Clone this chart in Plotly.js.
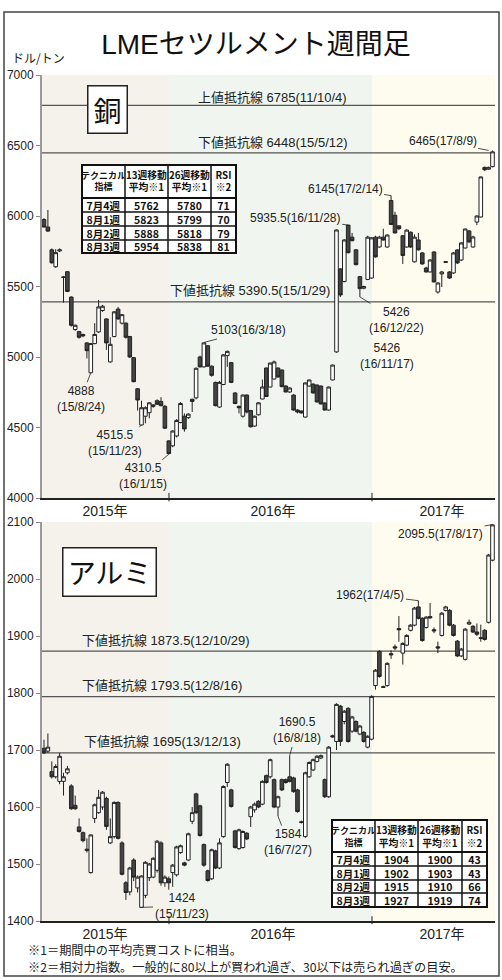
<!DOCTYPE html>
<html><head><meta charset="utf-8">
<script src="https://cdn.plot.ly/plotly-3.0.1.min.js"></script>
<style>html,body{margin:0;padding:0;background:#fff}#chart{width:502px;height:980px}</style>
</head><body><div id="chart"></div>
<script>
// ---------- DATA ----------
const weeks = [
'2015-06-01','2015-06-08','2015-06-15','2015-06-22','2015-06-29','2015-07-06','2015-07-13','2015-07-20','2015-07-27',
'2015-08-03','2015-08-10','2015-08-17','2015-08-24','2015-08-31','2015-09-07','2015-09-14','2015-09-21','2015-09-28',
'2015-10-05','2015-10-12','2015-10-19','2015-10-26','2015-11-02','2015-11-09','2015-11-16','2015-11-23','2015-11-30',
'2015-12-07','2015-12-14','2015-12-21','2015-12-28',
'2016-01-04','2016-01-11','2016-01-18','2016-01-25','2016-02-01','2016-02-08','2016-02-15','2016-02-22','2016-02-29',
'2016-03-07','2016-03-14','2016-03-21','2016-03-28','2016-04-04','2016-04-11','2016-04-18','2016-04-25','2016-05-02',
'2016-05-09','2016-05-16','2016-05-23','2016-05-30','2016-06-06','2016-06-13','2016-06-20','2016-06-27','2016-07-04',
'2016-07-11','2016-07-18','2016-07-25','2016-08-01','2016-08-08','2016-08-15','2016-08-22','2016-08-29','2016-09-05',
'2016-09-12','2016-09-19','2016-09-26','2016-10-03','2016-10-10','2016-10-17','2016-10-24','2016-10-31','2016-11-07',
'2016-11-14','2016-11-21','2016-11-28','2016-12-05','2016-12-12','2016-12-19','2016-12-26',
'2017-01-02','2017-01-09','2017-01-16','2017-01-23','2017-01-30','2017-02-06','2017-02-13','2017-02-20','2017-02-27',
'2017-03-06','2017-03-13','2017-03-20','2017-03-27','2017-04-03','2017-04-10','2017-04-17','2017-04-24','2017-05-01',
'2017-05-08','2017-05-15','2017-05-22','2017-05-29','2017-06-05','2017-06-12','2017-06-19','2017-06-26','2017-07-03',
'2017-07-10','2017-07-17','2017-07-24','2017-07-31','2017-08-07','2017-08-14'];

const cuOpen = [5975,5922,5760,5640,5752,5568,5605,5425,5195,5180,5160,5100,4888,5095,5178,5330,5270,4965,5145,5340,
5240,5240,5145,4995,4775,4518,4580,4605,4660,4690,4685,4650,4405,4370,4440,4535,4580,4570,4700,4710,
5000,4930,5080,4935,4820,4645,4805,5010,4960,4745,4650,4580,4730,4620,4510,4590,4702,4922,4787,4844,
4922,4908,4794,4752,4730,4624,4617,4574,4794,4808,4801,4794,4674,4624,4837,5036,5625,5535,5935.5,5850,
5760,5570,5488,5550,5560,5850,5780,5850,5780,6110,6005,5930,5860,5780,5885,5675,5830,5738,5631,5603,
5745,5461,5589,5676,5603,5596,5759,5688,5773,5894,5780,5957,5993,6345,6332,6350];
const cuHigh = [5985,6043,5770,5765,5770,5575,5610,5430,5230,5185,5165,5105,5100,5240,5405,5370,5275,5140,5325,5355,
5305,5245,5150,5000,4780,4690,4650,4680,4665,4700,4715,4660,4410,4480,4560,4680,4600,4600,4705,4925,
5010,5103,5085,4940,4825,4830,5020,5045,4965,4750,4655,4735,4735,4625,4585,4680,4840,4925,4960,4975,
4925,4910,4800,4785,4735,4630,4620,4820,4840,4812,4805,4798,4678,4790,4945,5905,5630,5835,5935.5,5880,
5765,5575,5505,5860,5850,5860,5860,5910,5870,6145,6030,5935,5865,5905,5890,5870,5880,5745,5640,5695,
5750,5530,5610,5680,5610,5745,5765,5815,5910,5900,5860,6005,6280,6350,6350,6465];
const cuLow = [5918,5888,5662,5632,5745,5385,5460,5215,5185,5130,5140,4990,4888,5090,5170,5320,5050,4960,5140,5265,
5230,5130,4995,4820,4620,4515.5,4530,4565,4640,4660,4650,4490,4310.5,4360,4430,4530,4470,4560,4610,4700,
4925,4925,4930,4860,4650,4640,4800,4930,4815,4665,4600,4570,4600,4500,4505,4585,4700,4716,4785,4840,
4855,4785,4750,4745,4620,4600,4600,4570,4790,4740,4678,4664,4620,4620,4835,5030,5426,5530,5735,5820,
5650,5426,5480,5545,5555,5705,5775,5825,5775,5935,5875,5900,5660,5775,5775,5670,5755,5655,5600,5600,
5530,5450,5496,5670,5555,5590,5660,5680,5770,5810,5775,5935,5990,6320,6328,6345];
const cuClose = [5922,5893,5668,5740,5760,5565,5465,5225,5225,5140,5150,5045,5095,5160,5355,5360,5100,5090,5320,5270,
5300,5140,5000,4825,4695,4640,4640,4675,4650,4665,4655,4495,4315,4475,4550,4670,4490,4595,4685,4920,
4930,5100,4935,4870,4655,4820,5015,5040,4820,4670,4640,4730,4610,4505,4580,4675,4787,4720,4957,4965,
4858,4790,4752,4780,4624,4610,4603,4816,4837,4745,4681,4667,4624,4787,4943,5901,5440,5830,5740,5825,
5655,5485,5500,5850,5845,5710,5850,5830,5865,5940,5880,5910,5720,5900,5780,5850,5760,5660,5603,5688,
5532,5525,5603,5672,5560,5738,5667,5809,5908,5816,5851,6000,6277,6328,6345,6455];

const alOpen = [1703,1698,1662,1653,1645,1645,1660,1637,1603,1565,1555,1526,1485,1580,1590,1600,1615,1537,1548,1608,
1537,1467,1451,1507,1458,1424,1445,1476,1477,1489,1537,1467,1474,1485,1481,1520,1502,1507,1575,1623,
1602,1534,1488,1474,1523,1493,1548,1643,1630,1558,1527,1529,1554,1583,1595,1610,1605,1655,1653,1648,
1600,1648,1648,1653,1651,1630,1574,1548,1653,1665,1680,1686,1648,1618,1725,1715,1777,1750,1773,1733,
1750,1728,1731,1705,1719,1813,1873,1811,1813,1869,1881,1913,1870,1884,1910,1919,1951,1931,1915,1934,
1911,1881,1901,1945,1945,1919,1891,1865,1859,1921,1917,1907,1897,1910,1924,2033];
const alHigh = [1718,1729,1680,1675,1695,1660,1672,1640,1620,1580,1557,1545,1552,1606,1630,1628,1618,1580,1610,1610,
1540,1470,1495,1510,1480,1480,1505,1502,1512,1542,1540,1480,1478,1500,1532,1534,1504,1555,1600,1625,
1604,1536,1490,1527,1525,1545,1638,1677,1632,1560,1562,1559,1556,1602,1608,1612,1647,1657,1685,1650,
1620,1650,1650,1690.5,1653,1632,1576,1662,1680,1685,1691,1692,1650,1707,1727,1782,1779,1770,1775,1760,
1752,1744,1733,1726,1796,1842,1875,1813,1854,1875,1885,1935,1889,1903,1921,1951,1962,1933,1935,1958,
1915,1890,1942,1953,1947,1921,1893,1879,1914,1929,1919,1922,1920,1912,2044,2095.5];
const alLow = [1693,1695,1650,1650,1640,1620,1657,1595,1595,1555,1538,1520,1483,1572,1588,1595,1560,1535,1545,1543,
1480,1437,1445,1470,1450,1424,1440,1470,1475,1485,1462,1460,1455,1460,1478,1518,1496,1505,1570,1588,
1548,1495,1469,1472,1491,1491,1546,1635,1599,1527,1525,1527,1542,1565,1590,1598,1603,1641,1650,1598,
1584,1628,1641,1643,1625,1590,1571,1546,1651,1663,1678,1684,1616,1616,1722,1700,1707,1745,1713,1730,
1731,1726,1713,1703,1717,1806,1827,1809,1811,1860,1875,1890,1850,1882,1908,1917,1929,1890,1913,1930,
1905,1870,1899,1943,1917,1899,1863,1863,1857,1919,1905,1900,1890,1892,1922,2031];
const alClose = [1695,1705,1653,1671,1689,1653,1667,1597,1597,1557,1541,1524,1551,1604,1617,1626,1566,1548,1608,1545,
1482,1450,1493,1477,1477,1479,1503,1500,1510,1540,1467,1477,1467,1498,1530,1532,1498,1553,1590,1590,
1550,1498,1471,1525,1493,1537,1636,1675,1601,1529,1560,1557,1544,1600,1605,1600,1645,1643,1683,1600,
1618,1630,1643,1645,1627,1592,1573,1660,1678,1683,1689,1690,1618,1705,1723,1780,1715,1768,1715,1758,
1733,1742,1715,1724,1794,1840,1829,1810,1852,1867,1879,1911,1887,1901,1919,1949,1931,1892,1933,1932,
1909,1879,1940,1951,1919,1901,1865,1877,1912,1924,1907,1903,1896,1894,2042,2095];

const cuLineValues = [6785, 6448, 5390.5];
const cuLineNames = ['上値抵抗線', '下値抵抗線', '下値抵抗線'];
const cuLineDates = ['11/10/4', '15/5/12', '15/1/29'];
const alLineValues = [1873.5, 1793.5, 1695];
const alLineNames = ['下値抵抗線', '下値抵抗線', '下値抵抗線'];
const alLineDates = ['12/10/29', '12/8/16', '13/12/13'];

const cuCallWeek = [114, 89, 78, 81, 76, 41, 12, 25, 32];
const cuCallPrice = [6465, 6145, 5935.5, 5426, 5426, 5103, 4888, 4515.5, 4310.5];
const cuCallDate = ['17/8/9', '17/2/14', '16/11/28', '16/12/22', '16/11/17', '16/3/18', '15/8/24', '15/11/23', '16/1/15'];
const alCallWeek = [115, 96, 63, 60, 25];
const alCallPrice = [2095.5, 1962, 1690.5, 1584, 1424];
const alCallDate = ['17/8/17', '17/4/5', '16/8/18', '16/7/27', '15/11/23'];

const yearLabels = ['2015年', '2016年', '2017年'];
const tableHeader = ['テクニカル<br>指標', '13週移動<br>平均※1', '26週移動<br>平均※1', 'RSI<br>※2'];
const tableWeeks = ['7月4週', '8月1週', '8月2週', '8月3週'];
const cuMA13 = [5762, 5823, 5888, 5954];
const cuMA26 = [5780, 5799, 5818, 5838];
const cuRSI = [71, 70, 79, 81];
const alMA13 = [1904, 1902, 1915, 1927];
const alMA26 = [1900, 1903, 1910, 1919];
const alRSI = [43, 43, 66, 74];

// ---------- STYLE / LAYOUT ----------
const W = 502, H = 980;
const px = v => v / W, py = v => 1 - v / H;
const FONT = "'Liberation Sans', 'Noto Sans CJK JP', sans-serif";
const CJK = "'Noto Sans CJK JP', sans-serif";
const xRange = ['2015-05-28 10:00', '2017-08-18 12:00'];
const yearBounds = ['2016-01-11 08:00', '2017-01-09 17:00'];
const yearLabelPos = ['2015-09-18 12:00', '2016-07-16', '2017-05-15 10:00'];
const bgColors = ['#f5f2eb', '#f0f6ef', '#fefcef'];

function candle(o, h, l, c, xa, ya) {
  return {type: 'candlestick', x: weeks, open: o, high: h, low: l, close: c, xaxis: xa, yaxis: ya,
    increasing: {line: {color: '#222', width: 1}, fillcolor: '#ffffff'},
    decreasing: {line: {color: '#222', width: 1}, fillcolor: '#444444'},
    whiskerwidth: 0, hoverinfo: 'skip', showlegend: false};
}

const data = [
  candle(cuOpen, cuHigh, cuLow, cuClose, 'x', 'y'),
  candle(alOpen, alHigh, alLow, alClose, 'x2', 'y2')
];

function xax(anchor) {
  return {type: 'date', range: xRange, domain: [px(42), px(495)], anchor: anchor,
    tickmode: 'array', tickvals: yearLabelPos, ticktext: yearLabels, ticks: '', showgrid: false, zeroline: false,
    showline: true, linecolor: '#222', linewidth: 1.5, tickfont: {family: FONT, size: 14, color: '#222'},
    rangeslider: {visible: false}, fixedrange: true};
}
function yax(anchor, dom, rng, tv) {
  return {domain: dom, range: rng, anchor: anchor, tickmode: 'array', tickvals: tv, ticks: 'outside', ticklen: 4,
    tickcolor: '#888', tickwidth: 1, showline: true, linecolor: '#999', linewidth: 2, showgrid: false, zeroline: false,
    tickfont: {family: FONT, size: 12, color: '#222'}, fixedrange: true};
}

const shapes = [];
const ann = [];
[['x', 'y'], ['x2', 'y2']].forEach(([xa, ya]) => {
  const edges = [xRange[0], yearBounds[0], yearBounds[1], xRange[1]];
  for (let i = 0; i < 3; i++) {
    shapes.push({type: 'rect', xref: xa, yref: ya + ' domain', x0: edges[i], x1: edges[i + 1], y0: 0, y1: 1,
      fillcolor: bgColors[i], line: {width: 0}, layer: 'below'});
  }
  yearBounds.forEach(b => shapes.push({type: 'line', xref: xa, yref: ya + ' domain', x0: b, x1: b, y0: -0.008, y1: 0.012,
    line: {color: '#222', width: 1}}));
});
cuLineValues.forEach(v => shapes.push({type: 'line', xref: 'x domain', yref: 'y', x0: 0, x1: 1, y0: v, y1: v,
  line: {color: '#555', width: 1.3}, layer: 'below'}));
alLineValues.forEach(v => shapes.push({type: 'line', xref: 'x2 domain', yref: 'y2', x0: 0, x1: 1, y0: v, y1: v,
  line: {color: '#555', width: 1.3}, layer: 'below'}));
shapes.push({type: 'rect', xref: 'paper', yref: 'paper', x0: px(4), x1: px(499), y0: py(976), y1: py(12),
  line: {color: '#444', width: 1.5}, fillcolor: 'rgba(0,0,0,0)'});

// ---------- tables (grid as shapes, texts as annotations) ----------
function drawTable(colX, rowY, cols) {
  const x0 = colX[0], x1 = colX[colX.length - 1], y0 = rowY[0], y1 = rowY[rowY.length - 1];
  shapes.push({type: 'rect', xref: 'paper', yref: 'paper', x0: px(x0), x1: px(x1), y0: py(y1), y1: py(y0),
    fillcolor: '#fff', line: {color: '#111', width: 2}});
  colX.slice(1, -1).forEach(x => shapes.push({type: 'line', xref: 'paper', yref: 'paper', x0: px(x), x1: px(x),
    y0: py(y1), y1: py(y0), line: {color: '#111', width: 1.5}}));
  rowY.slice(1, -1).forEach((y, i) => shapes.push({type: 'line', xref: 'paper', yref: 'paper', x0: px(x0), x1: px(x1),
    y0: py(y), y1: py(y), line: {color: '#111', width: i === 0 ? 2 : 1.5}}));
  tableHeader.forEach((t, c) => ann.push({xref: 'paper', yref: 'paper', x: px((colX[c] + colX[c + 1]) / 2),
    y: py((rowY[0] + rowY[1]) / 2), text: t, showarrow: false, xanchor: 'center', yanchor: 'middle',
    width: colX[c + 1] - colX[c] - 2, height: rowY[1] - rowY[0] - 3, borderpad: 0,
    font: {family: CJK, size: c === 0 ? 9 : 9.8, color: '#111', weight: 'bold'}}));
  cols.forEach((col, c) => col.forEach((v, r) => ann.push({xref: 'paper', yref: 'paper',
    x: px((colX[c] + colX[c + 1]) / 2), y: py((rowY[r + 1] + rowY[r + 2]) / 2), text: String(v), showarrow: false,
    width: colX[c + 1] - colX[c] - 2, height: rowY[r + 2] - rowY[r + 1] - 2, borderpad: 0,
    xanchor: 'center', yanchor: 'middle', font: {family: CJK, size: 10.5, color: '#111', weight: 'bold'}})));
}
drawTable([82, 125, 168, 211, 236], [165, 198, 212, 226, 240, 253], [tableWeeks, cuMA13, cuMA26, cuRSI]);
drawTable([332, 375, 418, 462, 487], [820, 852, 866, 880, 893, 907], [tableWeeks, alMA13, alMA26, alRSI]);

// ---------- labels ----------
const cuLineStyle = [{x: 272, ys: 8}, {x: 273, ys: 10}, {x: 250, ys: 11}];
cuLineValues.forEach((v, i) => ann.push({xref: 'paper', yref: 'y', x: px(cuLineStyle[i].x), y: v, yshift: cuLineStyle[i].ys,
  text: cuLineNames[i] + ' ' + v + '(' + cuLineDates[i] + ')', showarrow: false, xanchor: 'center', yanchor: 'middle',
  font: {family: FONT, size: 13, color: '#222'}}));
const alLineStyle = [{x: 166, ys: 11}, {x: 162, ys: 11.5}, {x: 162, ys: 11.5}];
alLineValues.forEach((v, i) => ann.push({xref: 'paper', yref: 'y2', x: px(alLineStyle[i].x), y: v, yshift: alLineStyle[i].ys,
  text: alLineNames[i] + ' ' + v + '(' + alLineDates[i] + ')', showarrow: false, xanchor: 'center', yanchor: 'middle',
  font: {family: FONT, size: 13, color: '#222'}}));

const cuCallStyle = [{ax: -46, ay: -9}, {ax: -46, ay: -7}, {ax: -53, ay: -7}, {ax: 37, ay: 23, two: 1}, {ax: 47, ay: 59, two: 1},
  {ax: 45, ay: -12}, {ax: -10, ay: 26, two: 1}, {ax: -27, ay: 18, two: 1}, {ax: -26, ay: 22, two: 1}];
const alCallStyle = [{ax: -52, ay: 9}, {ax: -48, ay: -6}, {ax: 7, ay: -25, two: 1}, {ax: 10, ay: 26, two: 1}, {ax: 40, ay: -1, two: 1}];
function callout(xa, ya, wk, p, d, st) {
  return {xref: xa, yref: ya, x: weeks[wk], y: p, text: st.two ? p + '<br>(' + d + ')' : p + '(' + d + ')',
    showarrow: true, arrowhead: 0, arrowwidth: 0.8, arrowcolor: '#222', ax: st.ax, ay: st.ay, standoff: 0,
    font: {family: FONT, size: 12, color: '#222'}};
}
cuCallWeek.forEach((w, i) => ann.push(callout('x', 'y', w, cuCallPrice[i], cuCallDate[i], cuCallStyle[i])));
alCallWeek.forEach((w, i) => ann.push(callout('x2', 'y2', w, alCallPrice[i], alCallDate[i], alCallStyle[i])));

ann.push({xref: 'paper', yref: 'paper', x: px(10), y: py(57), xanchor: 'left', yanchor: 'middle', showarrow: false,
  text: 'ドル/トン', font: {family: CJK, size: 12, color: '#222'}});
ann.push({xref: 'paper', yref: 'paper', x: px(107), y: py(109.5), xanchor: 'center', yanchor: 'middle', showarrow: false,
  text: '銅', width: 36, height: 44, bgcolor: '#fff', bordercolor: '#222', borderwidth: 1.5, borderpad: 1,
  font: {family: CJK, size: 28, color: '#111'}});
ann.push({xref: 'paper', yref: 'paper', x: px(109.5), y: py(572), xanchor: 'center', yanchor: 'middle', showarrow: false,
  text: 'アルミ', width: 90, height: 45, bgcolor: '#fff', bordercolor: '#222', borderwidth: 1.5, borderpad: 1,
  font: {family: CJK, size: 28, color: '#111'}});
ann.push({xref: 'paper', yref: 'paper', x: px(27), y: py(949.5), xanchor: 'left', yanchor: 'middle', showarrow: false,
  height: 14, borderpad: 0,
  text: '※1＝期間中の平均売買コストに相当。', font: {family: CJK, size: 12.2, color: '#222'}});
ann.push({xref: 'paper', yref: 'paper', x: px(27), y: py(966.5), xanchor: 'left', yanchor: 'middle', showarrow: false,
  height: 14, borderpad: 0,
  text: '※2＝相対力指数。一般的に80以上が買われ過ぎ、30以下は売られ過ぎの目安。', font: {family: CJK, size: 12.2, color: '#222'}});

const layout = {
  width: W, height: H, margin: {l: 0, r: 0, t: 0, b: 0, autoexpand: false},
  paper_bgcolor: '#fff', plot_bgcolor: 'rgba(0,0,0,0)', showlegend: false, boxgap: 0.08, boxgroupgap: 0,
  title: {text: 'LMEセツルメント週間足', x: px(256), y: py(44), xanchor: 'center', yanchor: 'middle',
    font: {family: FONT, size: 28, color: '#111'}},
  xaxis: xax('y'), xaxis2: xax('y2'),
  yaxis: yax('x', [py(498), py(75)], [4000, 7000], [4000, 4500, 5000, 5500, 6000, 6500, 7000]),
  yaxis2: yax('x2', [py(921), py(522)], [1400, 2100], [1400, 1500, 1600, 1700, 1800, 1900, 2000, 2100]),
  shapes: shapes, annotations: ann
};
Plotly.newPlot('chart', data, layout, {staticPlot: true, displayModeBar: false});
</script>
</body></html>
